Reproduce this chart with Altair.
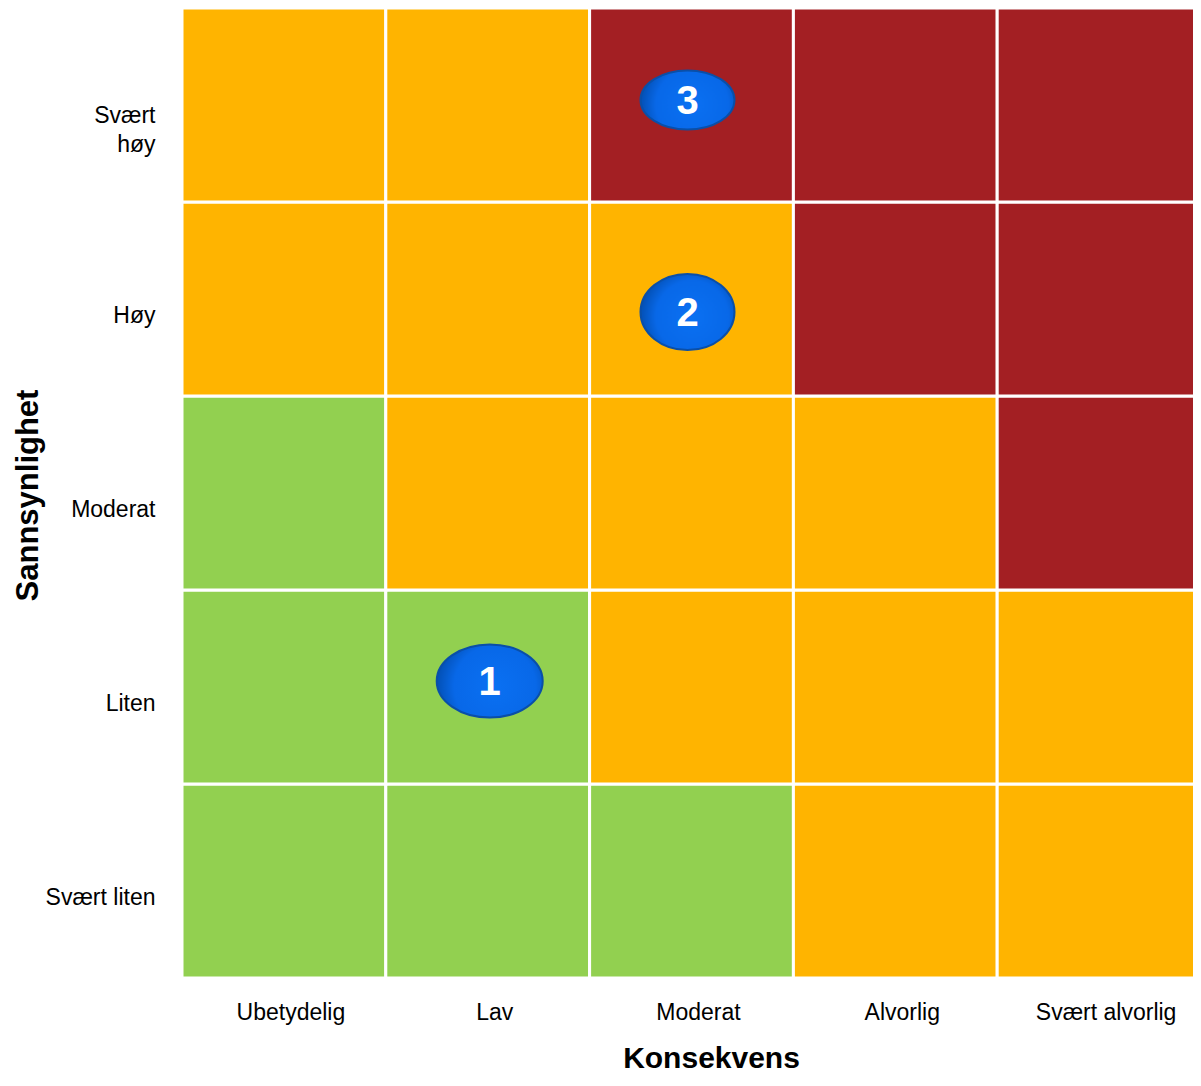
import altair as alt
import pandas as pd

consequences = ["Ubetydelig", "Lav", "Moderat", "Alvorlig", "Svært alvorlig"]
likelihoods = ["Svært liten", "Liten", "Moderat", "Høy", "Svært høy"]  # bottom -> top
# risk level per likelihood row (bottom -> top), per consequence column
risk_rows = [
    ["lav", "lav", "lav", "middels", "middels"],
    ["lav", "lav", "middels", "middels", "middels"],
    ["lav", "middels", "middels", "middels", "høy"],
    ["middels", "middels", "middels", "høy", "høy"],
    ["middels", "middels", "høy", "høy", "høy"],
]
risk_levels = ["lav", "middels", "høy"]
risk_colors = ["#92D050", "#FFB400", "#A31F23"]

risk_ids = ["1", "2", "3"]
risk_consequence = ["Lav", "Moderat", "Moderat"]
risk_likelihood = ["Liten", "Høy", "Svært høy"]

cells = pd.DataFrame(
    [
        {"Konsekvens": c, "Sannsynlighet": l, "risiko": risk_rows[i][j]}
        for i, l in enumerate(likelihoods)
        for j, c in enumerate(consequences)
    ]
)
risks = pd.DataFrame(
    {"id": risk_ids, "Konsekvens": risk_consequence, "Sannsynlighet": risk_likelihood}
)

FONT = "Liberation Sans"

x_enc = alt.X(
    "Konsekvens:N",
    sort=consequences,
    scale=alt.Scale(domain=consequences, paddingInner=0, paddingOuter=0, range=[0, 1019]),
    axis=alt.Axis(
        title="Konsekvens",
        labelAngle=0,
        ticks=False,
        domain=False,
        labelPadding=23,
        labelOffset=7,
        labelFontSize=23,
        labelFont=FONT,
        labelColor="#000000",
        labelBaseline="top",
        titleFont=FONT,
        titleFontSize=30,
        titleFontWeight="bold",
        titleColor="#000000",
        titleX=529,
        titleY=80,
        titleBaseline="middle",
        titleAlign="center",
    ),
)
y_enc = alt.Y(
    "Sannsynlighet:N",
    sort=likelihoods[::-1],
    scale=alt.Scale(domain=likelihoods[::-1], paddingInner=0, paddingOuter=0),
    axis=alt.Axis(
        title="Sannsynlighet",
        ticks=False,
        domain=False,
        labelPadding=27,
        labelOffset={"condition": {"test": "datum.label == 'Svært høy'", "value": 11}, "value": 17},
        labelFontSize=23,
        labelFont=FONT,
        labelColor="#000000",
        labelLineHeight=29,
        labelExpr="datum.label == 'Svært høy' ? ['Svært', 'høy'] : datum.label",
        titleFont=FONT,
        titleFontSize=31,
        titleFontWeight="bold",
        titleColor="#000000",
        titleX=-154,
        titleY=487,
        titleAngle=270,
        titleBaseline="middle",
        titleAlign="center",
    ),
)

grid = alt.Chart(cells).mark_rect(stroke="white", strokeWidth=3).encode(
    x=x_enc,
    y=y_enc,
    color=alt.Color(
        "risiko:N",
        scale=alt.Scale(domain=risk_levels, range=risk_colors),
        legend=None,
    ),
)

# bubble styles (width in px, height/width ratio, pixel nudges)
bubble_style = {
    "1": (106, 0.69, 2, -6),
    "2": (94, 0.81, -4, 13),
    "3": (94, 0.63, -4, -5),
}

fill_grad = alt.RadialGradient(
    gradient="radial",
    x1=0.55, y1=0.55, r1=0.0,
    x2=0.55, y2=0.55, r2=0.55,
    stops=[
        alt.GradientStop(offset=0.0, color="#0A70F2"),
        alt.GradientStop(offset=0.7, color="#0868E8"),
        alt.GradientStop(offset=1.0, color="#0350B5"),
    ],
)

layers = [grid]
for rid in risk_ids:
    w, ratio, dx, dy = bubble_style[rid]
    path = f"M-1,0A1,{ratio},0,1,0,1,0A1,{ratio},0,1,0,-1,0Z"
    sub = risks[risks["id"] == rid]
    layers.append(
        alt.Chart(sub)
        .mark_point(
            shape=path,
            size=w * w,
            filled=True,
            fill=fill_grad,
            stroke="#0A4FA8",
            strokeWidth=2,
            opacity=1,
            xOffset=dx,
            yOffset=dy,
        )
        .encode(x=x_enc, y=y_enc)
    )
    layers.append(
        alt.Chart(sub)
        .mark_text(
            font=FONT,
            fontSize=40,
            fontWeight="bold",
            color="white",
            baseline="alphabetic",
            align="center",
            xOffset=dx,
            yOffset=dy + 14,
        )
        .encode(x=x_enc, y=y_enc, text="id:N")
    )

chart = (
    alt.layer(*layers)
    .properties(
        width=1011,
        height=970,
        autosize=alt.AutoSizeParams(type="none"),
        padding={"left": 174, "top": 0, "right": 0, "bottom": 95},
    )
    .configure_view(stroke=None, clip=False)
    .configure(background="white")
)

chart.save("out.html", embed_options={"renderer": "svg", "actions": False})
